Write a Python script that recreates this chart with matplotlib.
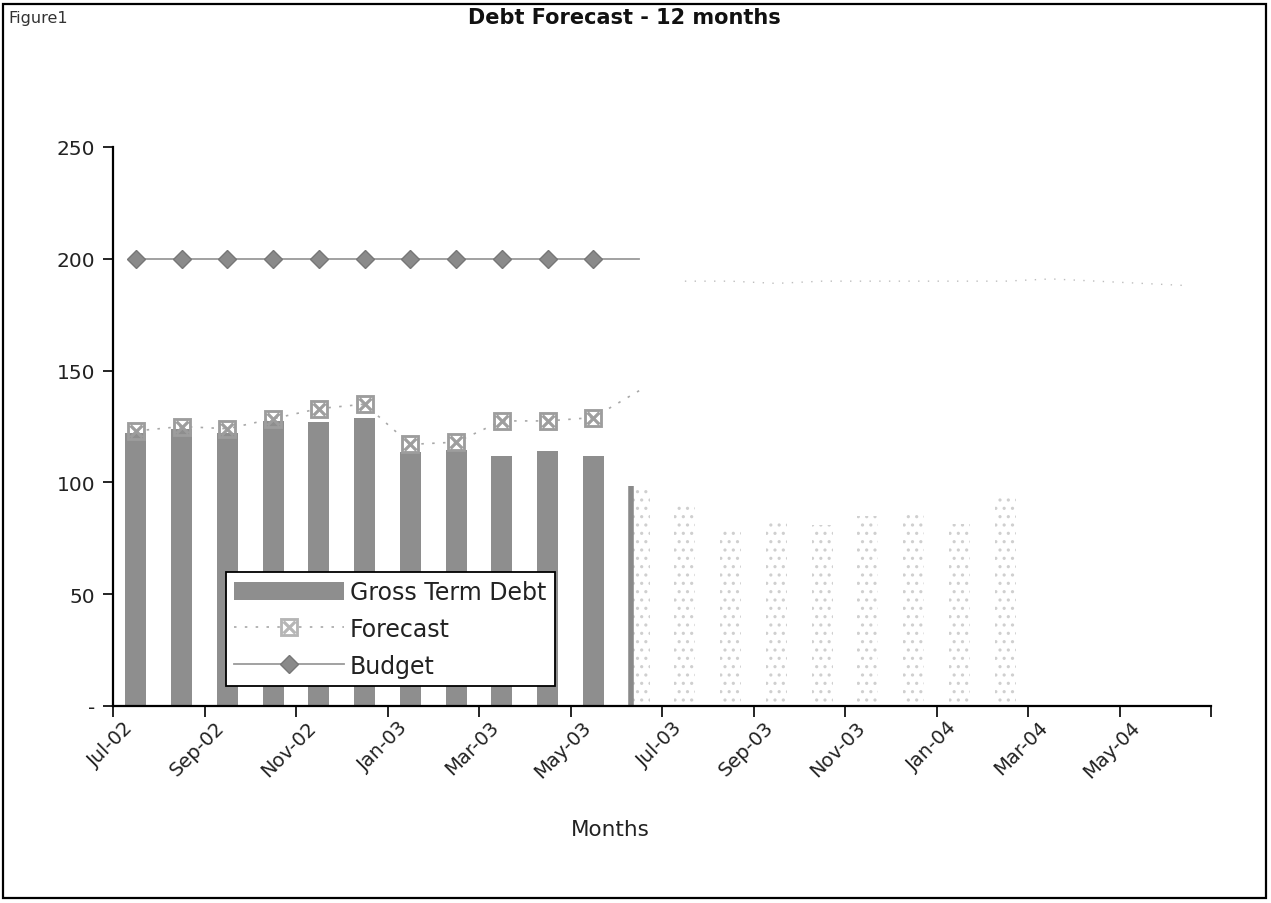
import numpy as np
import matplotlib
matplotlib.use("Agg")
import matplotlib.pyplot as plt
from matplotlib.patches import Rectangle, Patch
from matplotlib.lines import Line2D
import matplotlib.transforms as mtransforms

plt.rcParams['font.family'] = ['DejaVu Sans']
plt.rcParams['hatch.linewidth'] = 1.1

# ---------------- data ----------------
months = ['Jul-02', 'Aug-02', 'Sep-02', 'Oct-02', 'Nov-02', 'Dec-02',
          'Jan-03', 'Feb-03', 'Mar-03', 'Apr-03', 'May-03', 'Jun-03',
          'Jul-03', 'Aug-03', 'Sep-03', 'Oct-03', 'Nov-03', 'Dec-03',
          'Jan-04', 'Feb-04', 'Mar-04', 'Apr-04', 'May-04', 'Jun-04']
gross_term_debt = [122, 124, 122, 127.5, 127, 129, 113.5, 114.5, 112, 114, 112]
gross_faded = [98.5, 89.5, 79, 82, 81, 85, 86.5, 81.5, 95]          # Jun-03 .. Feb-04
forecast = [123, 125, 124, 128.5, 133, 135, 117, 118, 127.5, 127.5, 129, 141]
budget = [200, 200, 200, 200, 200, 200, 200, 200, 200, 200, 200, 200]
budget_faded = [190, 190, 189, 190, 190, 190, 190, 190, 191, 190, 189, 188]  # Jul-03 .. Jun-04
tick_labels = ['Jul-02', 'Sep-02', 'Nov-02', 'Jan-03', 'Mar-03', 'May-03',
               'Jul-03', 'Sep-03', 'Nov-03', 'Jan-04', 'Mar-04', 'May-04', '']
ytick_vals = [0, 50, 100, 150, 200, 250]
ytick_labels = ['-', '50', '100', '150', '200', '250']

# ---------------- figure ----------------
W, H = 1271, 904
fig = plt.figure(figsize=(W / 100, H / 100), dpi=100)
ax = fig.add_axes([113 / W, 1 - 707 / H, (1211 - 113) / W, (707 - 148) / H])

x_all = np.arange(len(months)) + 0.5
n_act = len(gross_term_debt)
x_act = x_all[:n_act]
x_faded = x_all[n_act:n_act + len(gross_faded)]
bar_w = 0.46

bar_col = '#8e8e8e'
ax.bar(x_act, gross_term_debt, width=bar_w, color=bar_col, edgecolor='none', zorder=2)
ax.bar(x_faded, gross_faded, width=bar_w, facecolor='white', edgecolor='#cfcfcf',
       hatch='..', linewidth=0, zorder=1)
# visible left edge of the Jun-03 bar
ax.vlines(x_faded[0] - bar_w / 2 + 0.05, 0, gross_faded[0], color='#8a8a8a', lw=4, zorder=2)

# budget
x_b = x_all[:len(budget)]
ax.plot(x_b, budget, color='#9a9a9a', lw=1.3, marker='D', markersize=9,
        markerfacecolor='#8a8a8a', markeredgecolor='#777777',
        markevery=list(range(len(budget) - 1)), zorder=4)
x_bf = x_all[len(budget):len(budget) + len(budget_faded)]
ax.plot(x_bf, budget_faded, color='#bdbdbd', lw=1.0, linestyle=(0, (1, 6)), zorder=3)

# forecast
x_f = x_all[:len(forecast)]
ax.plot(x_f, forecast, color='#a8a8a8', lw=1.2, linestyle=(0, (1.5, 5)),
        marker='$\\boxtimes$', markersize=13, markeredgewidth=0.6,
        markerfacecolor='#9d9d9d', markeredgecolor='#9d9d9d',
        markevery=list(range(len(forecast) - 1)), zorder=5)

# axes styling
ax.set_xlim(0, len(months))
ax.set_ylim(0, 250)
for s in ['top', 'right']:
    ax.spines[s].set_visible(False)
ax.spines['left'].set_linewidth(1.6)
ax.spines['bottom'].set_linewidth(1.6)
ax.set_yticks(ytick_vals)
ax.set_yticklabels(ytick_labels, fontsize=14.5, color='#222222')
ax.tick_params(axis='y', direction='out', length=7, width=1.2, pad=6)
ax.set_xticks(np.arange(0, len(months) + 1, 2))
ax.set_xticklabels(tick_labels, fontsize=14, rotation=45, ha='right',
                   va='center', rotation_mode='anchor', color='#222222')
ax.tick_params(axis='x', direction='out', length=8, width=1.2, pad=5)
offset = mtransforms.ScaledTranslation(17 / 100, 0, fig.dpi_scale_trans)
for lab in ax.get_xticklabels():
    lab.set_transform(lab.get_transform() + offset)

# legend
handles = [Patch(facecolor=bar_col, edgecolor='none'),
           Line2D([0], [0], color='#a8a8a8', lw=1.2, linestyle=(0, (1.5, 5)),
                  marker='$\\boxtimes$', markersize=13, markeredgewidth=0.6,
                  markerfacecolor='#b5b5b5', markeredgecolor='#b5b5b5'),
           Line2D([0], [0], color='#9a9a9a', lw=1.3, marker='D', markersize=9,
                  markerfacecolor='#8a8a8a', markeredgecolor='#777777')]
leg = ax.legend(handles, ['Gross Term Debt', 'Forecast', 'Budget'],
                loc='lower left', bbox_to_anchor=((226 - 113) / 1098, 20 / 559),
                borderaxespad=0, fontsize=17, handlelength=4.65, handleheight=0.8,
                labelspacing=0.55, fancybox=False, framealpha=1,
                edgecolor='black', borderpad=0.35, handletextpad=0.25)
leg.get_frame().set_linewidth(1.3)
for t in leg.get_texts():
    t.set_color('#222222')

# texts
fig.text(624 / W, 1 - 18 / H, 'Debt Forecast - 12 months', ha='center', va='center',
         fontsize=15, fontweight='bold', color='#111111')
fig.text(8 / W, 1 - 18 / H, 'Figure1', ha='left', va='center', fontsize=11.5,
         color='#333333')
fig.text(610 / W, 1 - 830 / H, 'Months', ha='center', va='center', fontsize=15.5,
         color='#222222')

# figure border
fig.patches.append(Rectangle((3 / W, 1 - 899 / H), (1266 - 3) / W, (899 - 5) / H,
                             transform=fig.transFigure, fill=False,
                             edgecolor='black', lw=1.6))

fig.savefig('out.png', dpi=100)
